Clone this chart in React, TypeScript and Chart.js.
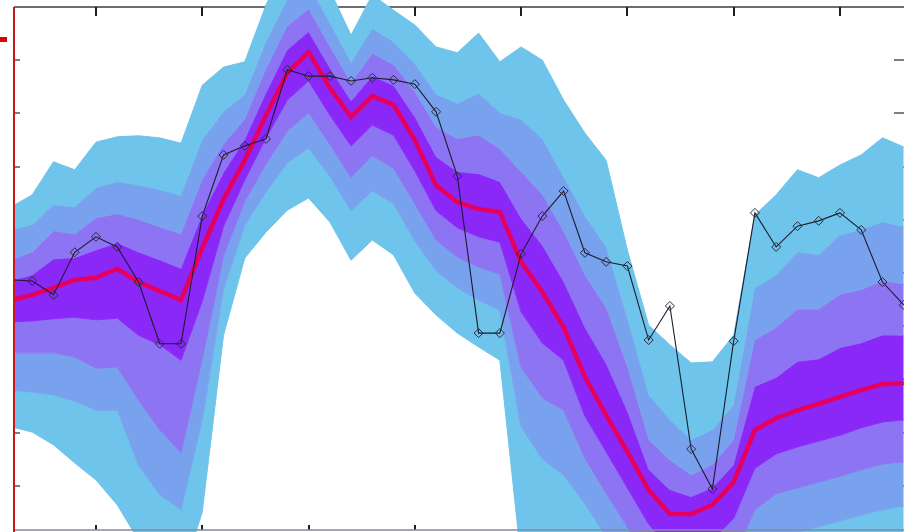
import { useEffect, useRef } from "react";
import { Chart, registerables } from "chart.js";

Chart.register(...registerables);

// x positions (sample index)
const XS = [0,1,2,3,4,5,6,7,8,9,10,11,12,13,14,15,16,17,18,19,20,21,22,23,24,25,26,27,28,29,30,31,32,33,34,35,36,37,38,39,40,41,42];
const X_TICKS = [4, 9, 14, 19, 24, 29, 34, 39];
const Y_TICKS = [1, 2, 3, 4, 5, 6, 7, 8, 9];
const X_MIN = 0.1425;
const X_MAX = 42.39;
const Y_MIN = 0.1316;
const Y_MAX = 10.1316;
const Y_TOP = 10;

// observed series (black line with diamonds)
const OBSERVED = [4.87,4.85,4.59,5.39,5.68,5.49,4.83,3.67,3.67,6.07,7.22,7.39,7.52,8.82,8.70,8.70,8.61,8.67,8.63,8.55,8.03,6.82,3.87,3.87,5.36,6.07,6.54,5.38,5.21,5.13,3.74,4.38,1.69,0.94,3.72,6.13,5.49,5.88,5.98,6.13,5.81,4.83,4.40];

// median of the fan (red line)
const MEDIAN = [4.49,4.59,4.72,4.87,4.91,5.08,4.83,4.66,4.49,5.47,6.39,7.12,7.97,8.76,9.15,8.48,7.93,8.33,8.16,7.50,6.65,6.33,6.20,6.15,5.21,4.64,3.98,3.05,2.33,1.64,0.92,0.47,0.47,0.64,1.07,2.05,2.27,2.42,2.54,2.67,2.80,2.91,2.93];

// upper band edges, outermost first
const UPPER_0 = [6.24,6.47,7.09,6.94,7.46,7.56,7.58,7.54,7.44,8.53,8.87,8.97,10.04,10.88,11.07,10.32,9.47,10.23,9.94,9.66,9.25,9.14,9.51,8.97,9.25,9.00,8.25,7.63,7.12,5.43,4.02,3.65,3.31,3.33,3.83,6.09,6.47,6.94,6.79,7.03,7.22,7.54,7.37];
const UPPER_1 = [5.81,5.90,6.28,6.24,6.60,6.71,6.65,6.56,6.45,7.50,8.03,8.35,9.34,10.13,10.41,9.70,8.95,9.59,9.34,8.93,8.36,8.18,8.38,8.01,7.88,7.52,6.80,6.07,5.49,4.14,2.71,2.24,1.86,2.05,2.52,4.72,4.96,5.39,5.34,5.71,5.81,5.96,5.86];
const UPPER_2 = [5.24,5.39,5.79,5.73,6.03,6.11,6.00,5.86,5.73,6.75,7.42,7.89,8.83,9.64,9.96,9.25,8.57,9.12,8.91,8.40,7.74,7.52,7.59,7.33,6.90,6.47,5.77,4.96,4.34,3.23,1.86,1.48,1.20,1.39,1.86,3.74,3.97,4.32,4.32,4.59,4.68,4.85,4.79];
const UPPER_3 = [4.85,4.96,5.26,5.28,5.43,5.56,5.39,5.24,5.08,6.09,6.88,7.50,8.38,9.19,9.53,8.85,8.23,8.70,8.52,7.93,7.18,6.90,6.86,6.71,6.02,5.51,4.83,3.97,3.29,2.39,1.30,0.92,0.79,0.96,1.39,2.86,3.03,3.33,3.38,3.59,3.68,3.83,3.82];

// lower band edges, innermost first
const LOWER_3 = [4.08,4.10,4.14,4.17,4.12,4.15,3.83,3.65,3.36,4.47,5.88,6.75,7.54,8.25,8.61,7.97,7.39,7.78,7.59,6.92,6.17,5.85,5.68,5.58,4.27,3.68,3.36,2.31,1.64,0.96,0.28,-0.19,-0.19,-0.02,0.39,1.33,1.60,1.73,1.84,1.95,2.09,2.20,2.24];
const LOWER_2 = [3.50,3.50,3.50,3.42,3.21,3.23,2.61,2.05,1.62,3.38,5.32,6.35,7.05,7.67,8.01,7.42,6.80,7.20,6.97,6.30,5.62,5.30,5.11,4.98,3.23,2.65,2.42,1.52,0.86,0.23,-0.41,-0.92,-0.92,-0.75,-0.34,0.55,0.85,0.96,1.07,1.18,1.30,1.41,1.45];
const LOWER_1 = [2.80,2.76,2.71,2.59,2.42,2.42,1.39,0.83,0.55,2.24,4.70,5.90,6.52,7.07,7.35,6.82,6.17,6.54,6.30,5.60,5.04,4.72,4.49,4.30,2.11,1.50,1.20,0.66,0.04,-0.58,-1.18,-1.71,-1.71,-1.54,-1.15,-0.30,0.02,0.13,0.23,0.34,0.45,0.55,0.62];
const LOWER_0 = [2.11,2.01,1.77,1.43,1.11,0.64,-0.02,-0.68,-0.77,0.51,3.83,5.28,5.77,6.18,6.41,5.96,5.24,5.62,5.34,4.62,4.21,3.87,3.61,3.36,-0.39,-0.45,-0.50,-0.58,-1.15,-1.71,-2.27,-2.84,-2.84,-2.65,-2.27,-1.52,-1.15,-1.05,-0.96,-0.86,-0.77,-0.68,-0.58];

const BAND_COLORS = ["#6EC4EA", "#78A2EE", "#8C74F2", "#8A28F8"];

const axesPlugin = {
  id: "matlabAxes",
  beforeDatasetsDraw(chart: any) {
    const { ctx, chartArea, scales } = chart;
    const xs = scales.x;
    const ys = scales.y;
    const top = ys.getPixelForValue(Y_TOP);
    const bottom = 530;
    ctx.save();
    ctx.strokeStyle = "#3c3c3c";
    ctx.lineWidth = 1.5;
    ctx.beginPath();
    ctx.moveTo(chartArea.left, top);
    ctx.lineTo(chartArea.right, top);
    ctx.stroke();
    ctx.strokeStyle = "#1e1e1e";
    ctx.lineWidth = 2;
    ctx.beginPath();
    X_TICKS.forEach((t) => {
      const px = Math.round(xs.getPixelForValue(t));
      ctx.moveTo(px, top);
      ctx.lineTo(px, top + 9);
      ctx.moveTo(px, bottom);
      ctx.lineTo(px, bottom - 5);
    });
    ctx.stroke();
    ctx.strokeStyle = "#555";
    ctx.lineWidth = 1.5;
    ctx.beginPath();
    Y_TICKS.forEach((v) => {
      const py = Math.round(ys.getPixelForValue(v));
      ctx.moveTo(chartArea.left, py);
      ctx.lineTo(chartArea.left + 6, py);
      ctx.moveTo(chartArea.right - 18, py);
      ctx.lineTo(chartArea.right, py);
    });
    ctx.stroke();
    ctx.restore();
  },
  afterDatasetsDraw(chart: any) {
    const { ctx, chartArea, scales } = chart;
    const top = scales.y.getPixelForValue(Y_TOP);
    ctx.save();
    ctx.strokeStyle = "#7f8ca3";
    ctx.lineWidth = 1.5;
    ctx.beginPath();
    ctx.moveTo(chartArea.left, 530);
    ctx.lineTo(chartArea.right, 530);
    ctx.stroke();
    ctx.strokeStyle = "#c41a1a";
    ctx.lineWidth = 2;
    ctx.beginPath();
    ctx.moveTo(chartArea.left, top);
    ctx.lineTo(chartArea.left, chartArea.bottom);
    ctx.stroke();
    ctx.fillStyle = "#e00000";
    ctx.fillRect(0, 37, 7, 5);
    ctx.restore();
  },
};

export default function App() {
  const ref = useRef<HTMLCanvasElement>(null);
  useEffect(() => {
    if (!ref.current) return;
    const mk = (arr: number[]) => XS.map((x, i) => ({ x, y: arr[i] }));
    const band = (arr: number[], color: string, fill: any) => ({
      data: mk(arr),
      borderWidth: 1,
      borderColor: color,
      backgroundColor: color,
      pointRadius: 0,
      fill,
      clip: 0,
    });
    const chart = new Chart(ref.current, {
      type: "line",
      data: {
        datasets: [
          {
            data: mk(OBSERVED),
            borderColor: "#1c1c2c",
            borderWidth: 1.1,
            pointStyle: "rectRot",
            pointRadius: 4.5,
            pointBorderWidth: 1,
            pointBorderColor: "#2a2a3a",
            pointBackgroundColor: "rgba(0,0,0,0)",
            fill: false,
            clip: 0,
          },
          {
            data: mk(MEDIAN),
            borderColor: "#E6005C",
            borderWidth: 4.5,
            pointRadius: 0,
            fill: false,
            clip: 0,
          },
          band(UPPER_0, BAND_COLORS[0], "+1"),
          band(UPPER_1, BAND_COLORS[1], "+1"),
          band(UPPER_2, BAND_COLORS[2], "+1"),
          band(UPPER_3, BAND_COLORS[3], 1),
          band(LOWER_3, BAND_COLORS[3], 1),
          band(LOWER_2, BAND_COLORS[2], "-1"),
          band(LOWER_1, BAND_COLORS[1], "-1"),
          band(LOWER_0, BAND_COLORS[0], "-1"),
        ] as any,
      },
      options: {
        responsive: false,
        animation: false,
        devicePixelRatio: 1,
        layout: { autoPadding: false, padding: { left: 14, right: 0, top: 0, bottom: 0 } },
        elements: { line: { tension: 0 } },
        plugins: {
          legend: { display: false },
          tooltip: { enabled: false },
          filler: { propagate: false },
        },
        scales: {
          x: { type: "linear", min: X_MIN, max: X_MAX, display: false },
          y: { type: "linear", min: Y_MIN, max: Y_MAX, display: false },
        },
      } as any,
      plugins: [axesPlugin],
    });
    return () => chart.destroy();
  }, []);
  return (
    <div style={{ position: "fixed", left: 0, top: 0, width: 904, height: 532, overflow: "hidden", background: "#fff" }}>
      <canvas ref={ref} width={912} height={532} style={{ display: "block" }} />
    </div>
  );
}
